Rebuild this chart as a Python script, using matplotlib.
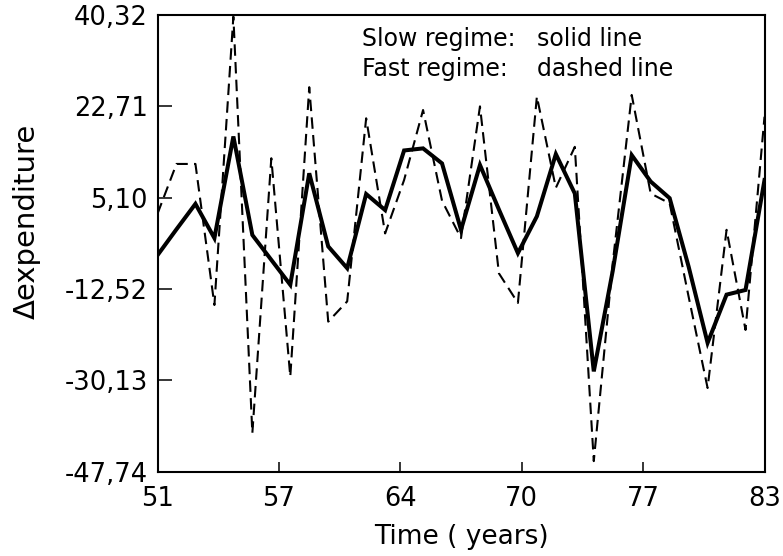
import matplotlib
matplotlib.use("Agg")
import matplotlib.pyplot as plt
import numpy as np

years = list(range(51, 84))
slow_regime = [-6.0, -1.0, 3.9, -2.7, 16.9, -2.1, -6.9, -11.7, 9.8, -4.3,
               -8.5, 5.8, 2.7, 14.2, 14.6, 11.7, -1.1, 11.4, 2.8, -5.6,
               1.5, 13.5, 5.9, -28.4, -9.0, 13.3, 8.2, 5.0, -8.2, -22.9,
               -13.6, -12.7, 8.5]
fast_regime = [2.0, 11.6, 11.6, -15.6, 40.0, -40.3, 12.7, -29.4, 26.4, -18.8,
               -14.9, 20.4, -1.8, 8.5, 22.0, 4.5, -2.7, 22.7, -9.5, -15.2,
               24.6, 7.0, 14.9, -45.7, -7.5, 24.9, 5.9, 4.0, -14.0, -31.6,
               -1.1, -20.4, 20.7]

ytick_values = [-47.74, -30.13, -12.52, 5.10, 22.71, 40.32]
ytick_labels = ["-47,74", "-30,13", "-12,52", "5,10", "22,71", "40,32"]
xtick_labels = ["51", "57", "64", "70", "77", "83"]

W, H = 783, 556
fig = plt.figure(figsize=(W / 100, H / 100), dpi=100)
ax = fig.add_axes([157.5 / W, 1 - 471.7 / H, (764.5 - 157.5) / W, (471.7 - 15) / H])

ax.plot(years, slow_regime, color="black", lw=2.9, solid_joinstyle="miter")
ax.plot(years, fast_regime, color="black", lw=1.5, linestyle=(0, (5.5, 3)))

ax.set_xlim(51, 83)
ax.set_ylim(-47.74, 40.32)
ax.set_xticks(np.linspace(51, 83, 6))
ax.set_xticklabels(xtick_labels)
ax.set_yticks(ytick_values)
ax.set_yticklabels(ytick_labels)

for s in ax.spines.values():
    s.set_linewidth(1.5)
ax.tick_params(axis="y", direction="in", length=10, width=1.1, labelsize=18.5, pad=7)
ax.tick_params(axis="x", direction="in", length=7, width=1.1, labelsize=18.5, pad=10)

fig.text(27 / W, 1 - 221 / H, "Δexpenditure", rotation=90, ha="center", va="center", fontsize=21)
fig.text(461 / W, 1 - 537 / H, "Time ( years)", ha="center", va="center", fontsize=19)

fig.text(362 / W, 1 - 46 / H, "Slow regime:", ha="left", va="baseline", fontsize=17)
fig.text(537 / W, 1 - 46 / H, "solid line", ha="left", va="baseline", fontsize=17)
fig.text(362 / W, 1 - 76 / H, "Fast regime:", ha="left", va="baseline", fontsize=17)
fig.text(537 / W, 1 - 76 / H, "dashed line", ha="left", va="baseline", fontsize=17)

fig.savefig("out.png", dpi=100)
